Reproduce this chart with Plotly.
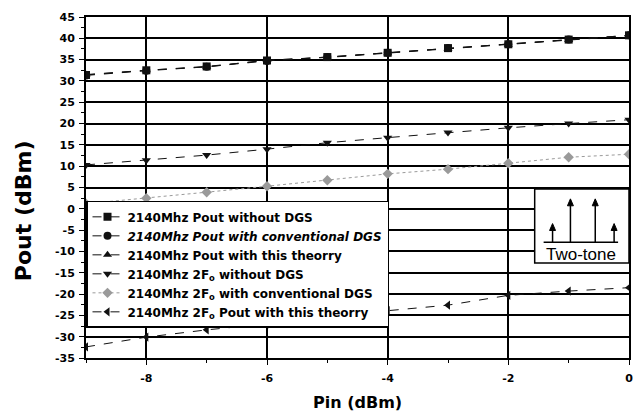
import plotly.graph_objects as go

pin = [-9, -8, -7, -6, -5, -4, -3, -2, -1, 0]

pout_no_dgs = [31.4, 32.5, 33.4, 34.8, 35.6, 36.6, 37.7, 38.6, 39.7, 40.7]
pout_conv_dgs = [31.3, 32.4, 33.3, 34.7, 35.6, 36.6, 37.7, 38.6, 39.7, 40.7]
pout_theory = [31.5, 32.5, 33.3, 34.9, 35.5, 36.5, 37.6, 38.5, 39.6, 40.6]
f2_no_dgs = [10.3, 11.4, 12.6, 14.0, 15.5, 16.7, 17.9, 19.0, 20.0, 20.9]
f2_conv_dgs = [1.2, 2.5, 3.9, 5.3, 6.7, 8.2, 9.3, 10.7, 12.1, 12.8]
f2_theory = [-32.4, -30.1, -28.4, -27.0, -25.2, -23.9, -22.6, -20.3, -19.3, -18.5]

x_tickvals = [-8, -6, -4, -2, 0]
x_ticktext = ["-8", "-6", "-4", "-2", "0"]
y_tickvals = [45, 40, 35, 30, 25, 20, 15, 10, 5, 0, -5, -10, -15, -20, -25, -30, -35]
y_ticktext = ["45", "40", "35", "30", "25", "20", "15", "10", "5", "0", "-5", "-10",
              "-15", "-20", "-25", "-30", "-35"]

names = [
    "2140Mhz Pout without DGS",
    "<i>2140Mhz Pout with conventional DGS</i>",
    "2140Mhz Pout with this theorry",
    "2140Mhz 2F<sub>o</sub> without DGS",
    "2140Mhz 2F<sub>o</sub> with conventional DGS",
    "2140Mhz 2F<sub>o</sub> Pout with this theorry",
]
series = [pout_no_dgs, pout_conv_dgs, pout_theory, f2_no_dgs, f2_conv_dgs, f2_theory]
symbols = ["square", "circle", "triangle-up", "triangle-down", "diamond", "triangle-left"]
colors = ["#111111", "#111111", "#111111", "#111111", "#9a9a9a", "#111111"]
dashes = ["dash", "dash", "dash", "dash", "dot", "dash"]

FONT = "DejaVu Sans"

fig = go.Figure()
for n, s, sym, c, d in zip(names, series, symbols, colors, dashes):
    fig.add_trace(go.Scatter(
        x=pin, y=s, name=n, mode="lines+markers",
        line=dict(color=c, width=1, dash=d),
        marker=dict(symbol=sym, size=8, color=c),
    ))

L, R, T, B = 86, 633, 13, 358
W, H = R - L, B - T
def px(x):
    return (x - L) / W
def py(y):
    return (B - y) / H

shapes = [
    dict(type="rect", xref="paper", yref="paper", x0=px(538), x1=px(633), y0=py(262), y1=py(187),
         fillcolor="white", line=dict(color="black", width=1.5), layer="above"),
    dict(type="line", xref="paper", yref="paper", x0=px(547), x1=px(622), y0=py(241), y1=py(241),
         line=dict(color="black", width=1.5), layer="above"),
]
for ax_x, top in [(556, 222), (574, 197), (599, 197), (618, 222)]:
    shapes.append(dict(type="line", xref="paper", yref="paper",
                       x0=px(ax_x), x1=px(ax_x), y0=py(241), y1=py(top + 5),
                       line=dict(color="black", width=1.5), layer="above"))
    path = "M {:.5f},{:.5f} L {:.5f},{:.5f} L {:.5f},{:.5f} Z".format(
        px(ax_x - 3), py(top + 7), px(ax_x), py(top), px(ax_x + 3), py(top + 7))
    shapes.append(dict(type="path", xref="paper", yref="paper", path=path,
                       fillcolor="black", line=dict(color="black", width=1), layer="above"))

annotations = [
    dict(xref="paper", yref="paper", x=px(585), y=py(253), text="Two-tone", showarrow=False,
         font=dict(family="Liberation Sans", size=17, color="black", weight="normal"),
         xanchor="center", yanchor="middle"),
    dict(xref="paper", yref="paper", x=px(23), y=py(209), text="Pout (dBm)", showarrow=False,
         textangle=-90, font=dict(family=FONT, size=22, color="black", weight="bold"),
         xanchor="center", yanchor="middle"),
    dict(xref="paper", yref="paper", x=px(360), y=py(403), text="Pin (dBm)", showarrow=False,
         font=dict(family=FONT, size=16, color="black", weight="bold"),
         xanchor="center", yanchor="middle"),
]

fig.update_layout(
    width=644, height=417,
    margin=dict(l=L, r=644 - R, t=T, b=417 - B),
    paper_bgcolor="white", plot_bgcolor="white",
    font=dict(family=FONT, color="black", size=11, weight="bold"),
    showlegend=True,
    legend=dict(
        x=0, y=py(199), xanchor="left", yanchor="top",
        bgcolor="white", bordercolor="black", borderwidth=1.5,
        font=dict(size=12, family=FONT, weight="bold"),
        tracegroupgap=0, itemwidth=30,
    ),
    shapes=shapes, annotations=annotations,
)
fig.update_xaxes(
    range=[-9, 0], tickvals=x_tickvals, ticktext=x_ticktext,
    showgrid=True, gridcolor="black", gridwidth=2,
    showline=True, linecolor="black", linewidth=2, mirror=True,
    ticks="outside", ticklen=5, tickcolor="black", zeroline=False,
    minor=dict(dtick=1, ticks="outside", ticklen=3, tickcolor="black", showgrid=False),
    tickfont=dict(size=11), ticklabelstandoff=4,
)
fig.update_yaxes(
    range=[-35, 45], tickvals=y_tickvals, ticktext=y_ticktext,
    showgrid=True, gridcolor="black", gridwidth=2,
    showline=True, linecolor="black", linewidth=2, mirror=True,
    ticks="outside", ticklen=5, tickcolor="black", zeroline=False,
    minor=dict(dtick=2.5, ticks="outside", ticklen=3, tickcolor="black", showgrid=False),
    tickfont=dict(size=11), ticklabelstandoff=2,
)

fig.write_html("out.html")
